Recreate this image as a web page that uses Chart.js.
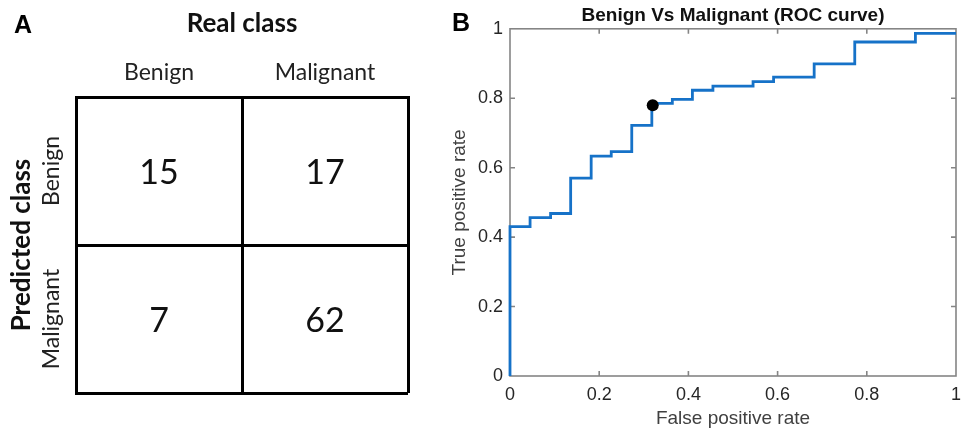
<!DOCTYPE html>
<html>
<head>
<meta charset="utf-8">
<script src="https://cdn.jsdelivr.net/npm/chart.js@4.4.0/dist/chart.umd.min.js"></script>
<style>
  html, body { margin: 0; padding: 0; background: #fff; }
  #wrap { position: relative; width: 969px; height: 431px; overflow: hidden; }
  canvas { position: absolute; top: 0; }
  .letter { position: absolute; font: bold 25px "Liberation Sans", Arial, sans-serif; line-height: 25px; color: #000; }
</style>
</head>
<body>
<div id="wrap">
  <canvas id="matrix" width="440" height="431" style="left:0"></canvas>
  <canvas id="roc" width="529" height="431" style="left:440px"></canvas>
  <div class="letter" style="left:14px;top:12px">A</div>
  <div class="letter" style="left:452px;top:10px">B</div>
</div>
<script>
// confusion matrix (rows = predicted class, columns = real class)
const classNames = ['Benign', 'Malignant'];
const matrixCounts = [
  [15, 17],
  [7, 62]
];

// ROC curve
const fprValues = [0, 0, 0.045, 0.091, 0.136, 0.182, 0.227, 0.273, 0.318, 0.364, 0.409, 0.455, 0.545, 0.591, 0.682, 0.773, 0.909, 1];
const tprValues = [0, 0.430, 0.456, 0.468, 0.570, 0.633, 0.646, 0.722, 0.785, 0.797, 0.823, 0.835, 0.848, 0.861, 0.899, 0.962, 0.987, 0.987];
const operatingPoint = { x: 0.32, y: 0.78 };
const rateTicks = [0, 0.2, 0.4, 0.6, 0.8, 1];

const calibriLike = 'Lato, "Open Sans", sans-serif';
const arialLike = '"Liberation Sans", Arial, sans-serif';

// ---------- panel A ----------
const cellPoints = [];
matrixCounts.forEach((row, r) => {
  row.forEach((count, c) => cellPoints.push({ x: c + 0.5, y: r + 0.5, v: count }));
});

const cellText = {
  id: 'cellText',
  afterDatasetsDraw(chart) {
    const ctx = chart.ctx;
    const meta = chart.getDatasetMeta(0);
    const yScale = chart.scales.y;
    ctx.save();
    ctx.fillStyle = '#111';
    ctx.textAlign = 'center';
    ctx.textBaseline = 'middle';
    ctx.font = '34px ' + calibriLike;
    meta.data.forEach((pt, i) => {
      ctx.fillText(String(cellPoints[i].v), pt.x, pt.y + 2);
    });
    // row labels, rotated like the original
    ctx.font = '23px ' + calibriLike;
    ctx.fillStyle = '#222';
    classNames.forEach((name, i) => {
      ctx.save();
      ctx.translate(chart.chartArea.left - 24, yScale.getPixelForValue(i + 0.5));
      ctx.rotate(-Math.PI / 2);
      ctx.fillText(name, 0, 0);
      ctx.restore();
    });
    ctx.restore();
  }
};

new Chart(document.getElementById('matrix'), {
  type: 'scatter',
  data: {
    datasets: [{
      data: cellPoints,
      pointRadius: 0
    }]
  },
  options: {
    responsive: false,
    animation: false,
    events: [],
    layout: { padding: { top: 0, left: 0, right: 32, bottom: 38 } },
    plugins: { legend: { display: false }, tooltip: { enabled: false } },
    scales: {
      x: {
        type: 'linear',
        position: 'top',
        min: 0,
        max: 2,
        afterFit: s => { s.height = 97; },
        afterBuildTicks: s => { s.ticks = [0, 0.5, 1, 1.5, 2].map(v => ({ value: v })); },
        ticks: {
          padding: 11,
          color: '#222',
          autoSkip: false,
          minRotation: 0,
          maxRotation: 0,
          font: { family: calibriLike, size: 23 },
          callback: v => (v === 0.5 ? classNames[0] : v === 1.5 ? classNames[1] : '')
        },
        grid: {
          color: '#000',
          lineWidth: c => (Number.isInteger(c.tick.value) ? 3 : 0),
          drawTicks: false
        },
        border: { display: true, color: '#000', width: 3 },
        title: {
          display: true,
          text: 'Real class',
          color: '#111',
          font: { family: calibriLike, size: 26, weight: 'bold' },
          padding: { top: 8, bottom: 0 }
        }
      },
      y: {
        type: 'linear',
        min: 0,
        max: 2,
        reverse: true,
        afterFit: s => { s.width = 76; },
        ticks: { stepSize: 1, display: false },
        grid: { color: '#000', lineWidth: 3, drawTicks: false },
        border: { display: true, color: '#000', width: 3 },
        title: {
          display: true,
          text: 'Predicted class',
          color: '#111',
          font: { family: calibriLike, size: 26, weight: 'bold' },
          padding: { top: 6, bottom: 0 }
        }
      }
    }
  },
  plugins: [cellText]
});

// ---------- panel B ----------
const rocPoints = fprValues.map((f, i) => ({ x: f, y: tprValues[i] }));

const plotFrame = {
  id: 'plotFrame',
  beforeDatasetsDraw(chart) {
    const { ctx, chartArea: a } = chart;
    const xs = chart.scales.x, ys = chart.scales.y;
    ctx.save();
    ctx.strokeStyle = '#858585';
    ctx.lineWidth = 1.6;
    ctx.strokeRect(a.left, a.top, a.right - a.left, a.bottom - a.top);
    ctx.beginPath();
    rateTicks.slice(1, -1).forEach(v => {
      const px = xs.getPixelForValue(v);
      ctx.moveTo(px, a.bottom); ctx.lineTo(px, a.bottom - 5);
      ctx.moveTo(px, a.top); ctx.lineTo(px, a.top + 5);
      const py = ys.getPixelForValue(v);
      ctx.moveTo(a.left, py); ctx.lineTo(a.left + 5, py);
      ctx.moveTo(a.right, py); ctx.lineTo(a.right - 5, py);
    });
    ctx.stroke();
    ctx.restore();
  }
};

new Chart(document.getElementById('roc'), {
  type: 'scatter',
  data: {
    datasets: [
      {
        data: [operatingPoint],
        pointRadius: 6,
        pointBackgroundColor: '#000',
        pointBorderColor: '#000',
        pointBorderWidth: 0,
        order: 0
      },
      {
        data: rocPoints,
        showLine: true,
        stepped: true,
        borderColor: '#1672c8',
        borderWidth: 2.8,
        pointRadius: 0,
        clip: false,
        order: 1
      }
    ]
  },
  options: {
    responsive: false,
    animation: false,
    events: [],
    layout: { padding: { top: 0, left: 0, right: 12, bottom: 0 } },
    plugins: {
      legend: { display: false },
      tooltip: { enabled: false },
      title: {
        display: true,
        fullSize: false,
        text: 'Benign Vs Malignant (ROC curve)',
        color: '#111',
        font: { family: arialLike, size: 19, weight: 'bold' },
        padding: { top: 4, bottom: 2 }
      }
    },
    scales: {
      x: {
        type: 'linear',
        min: 0,
        max: 1,
        afterFit: s => { s.height = 55; },
        afterBuildTicks: s => { s.ticks = rateTicks.map(v => ({ value: v })); },
        ticks: {
          padding: 8,
          color: '#262626',
          font: { family: arialLike, size: 18 },
          callback: v => String(v)
        },
        grid: { display: false, drawTicks: false },
        border: { display: false },
        title: {
          display: true,
          text: 'False positive rate',
          color: '#404040',
          font: { family: arialLike, size: 19 },
          padding: { top: 2, bottom: 1 }
        }
      },
      y: {
        type: 'linear',
        min: 0,
        max: 1,
        afterFit: s => { s.width = 70; },
        afterBuildTicks: s => { s.ticks = rateTicks.map(v => ({ value: v })); },
        ticks: {
          padding: 7,
          color: '#262626',
          font: { family: arialLike, size: 18 },
          callback: v => String(v)
        },
        grid: { display: false, drawTicks: false },
        border: { display: false },
        title: {
          display: true,
          text: 'True positive rate',
          color: '#404040',
          font: { family: arialLike, size: 19 },
          padding: { top: 8, bottom: 0 }
        }
      }
    }
  },
  plugins: [plotFrame]
});
</script>
</body>
</html>
